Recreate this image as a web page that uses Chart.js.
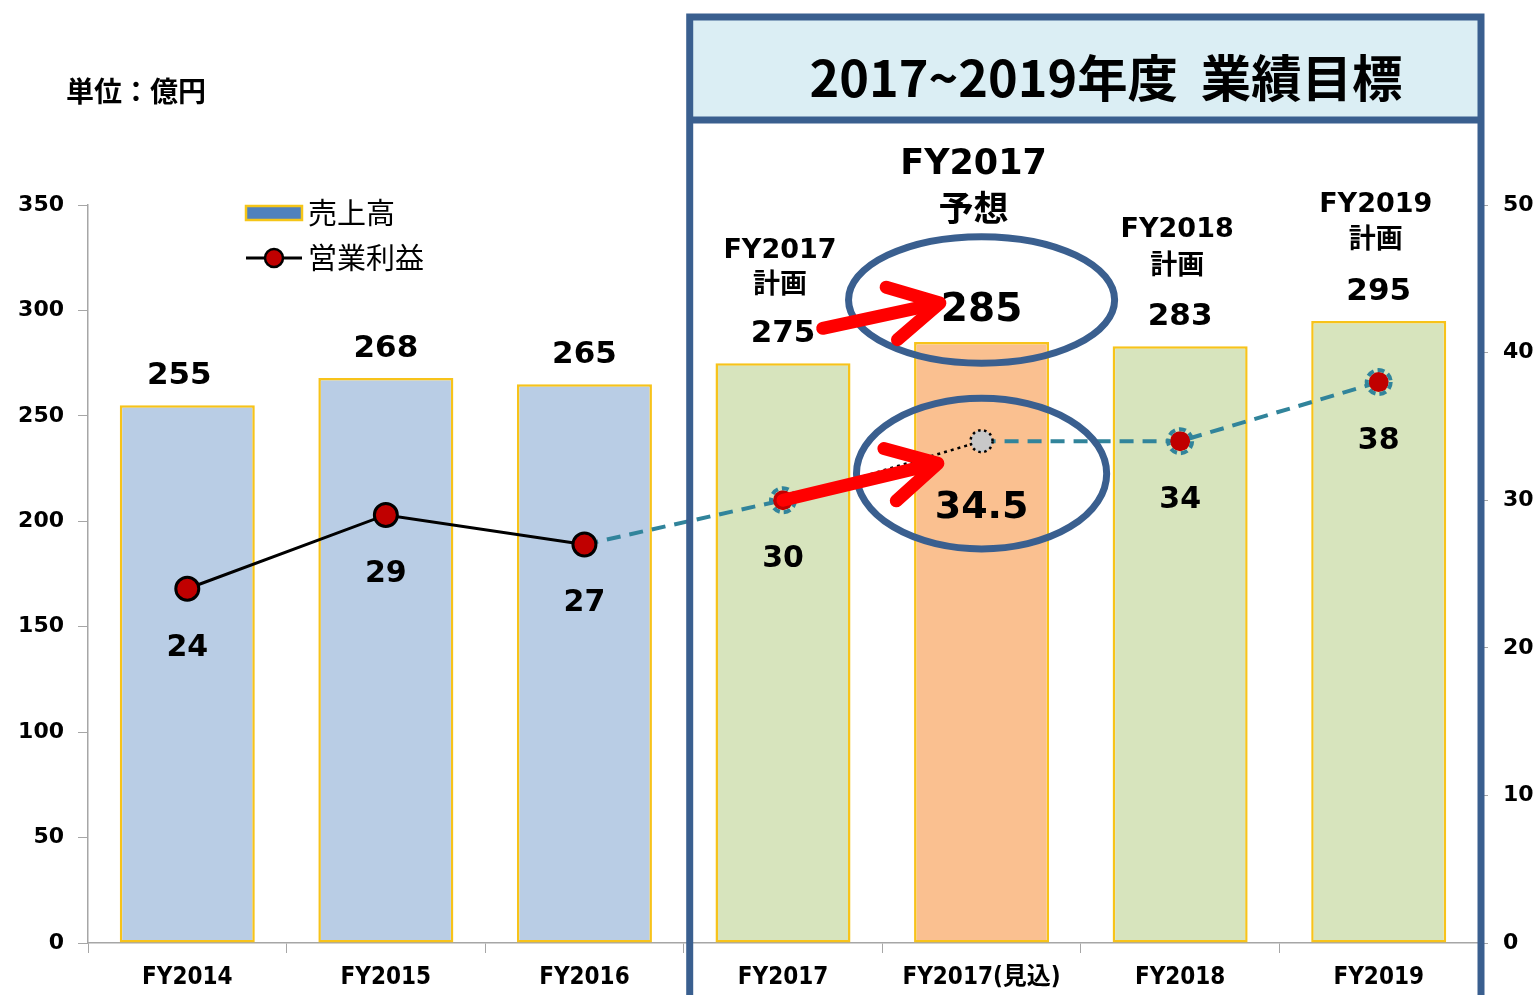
<!DOCTYPE html>
<html><head><meta charset="utf-8">
<script src="https://cdn.jsdelivr.net/npm/chart.js@4/dist/chart.umd.min.js"></script>
<style>html,body{margin:0;padding:0;background:#fff;overflow:hidden}#wrap{position:relative;width:1539px;height:995px}</style>
</head><body><div id="wrap"><canvas id="c" width="1539" height="995"></canvas></div>
<script>
// ---- data ----
const categories = ['FY2014','FY2015','FY2016','FY2017','FY2017(見込)','FY2018','FY2019'];
const sales = [255,268,265,275,285,283,295];
const salesLabels = ['255','268','265','275','285','283','295'];
const profitActual = [24,29,27,null,null,null,null];
const profitPlan = [null,null,27,30,34,34,38];
const profitLabels = ['24','29','27','30','34.5','34','38'];
const notes = [null,null,null,['FY2017','計画'],['FY2017','予想'],['FY2018','計画'],['FY2019','計画']];
const salesAxis = {min:0,max:350,step:50};
const profitAxis = {min:0,max:50,step:10};
const seriesNames = ['売上高','営業利益'];
const unitText = '単位：億円';
const titleText = '2017~2019年度  業績目標';
// annotations in data space [categoryIndex, value]
const arrowSales = {from:[3.2,291.5], to:[3.79,303.5]};
const arrowProfit = {from:[3,30], to:[3.78,32.5]};
const ellipseSales = {center:[4,305], rx:0.67, ry:30};
const ellipseProfit = {center:[4,31.8], rx:0.63, ry:5.1};

// ---- styles ----
const barColors = ['#b9cde5','#b9cde5','#b9cde5','#d7e4bd','#fac090','#d7e4bd','#d7e4bd'];
const NAVY = '#3a5f8f';
const TEAL = '#31849b';
const RED = '#c00000';
const LAT = '"DejaVu Sans", "Noto Sans CJK JP", sans-serif';
const CJK = '"Noto Sans CJK JP", "DejaVu Sans", sans-serif';

function drawArrow(ctx, x0, y0, x1, y1){
  const a = Math.atan2(y1-y0, x1-x0);
  ctx.save();
  ctx.strokeStyle = '#ff0000'; ctx.lineWidth = 13; ctx.lineCap='round'; ctx.lineJoin='round';
  ctx.beginPath(); ctx.moveTo(x0,y0); ctx.lineTo(x1-6*Math.cos(a), y1-6*Math.sin(a)); ctx.stroke();
  const L = 56, h = 0.5;
  ctx.beginPath();
  ctx.moveTo(x1 - L*Math.cos(a-h), y1 - L*Math.sin(a-h));
  ctx.lineTo(x1, y1);
  ctx.lineTo(x1 - L*Math.cos(a+h), y1 - L*Math.sin(a+h));
  ctx.stroke();
  ctx.restore();
}

const overlay = {
  id:'overlay',
  afterDatasetsDraw(chart){
    const {ctx, chartArea} = chart;
    const x = chart.scales.x, y = chart.scales.y, y1 = chart.scales.y1;
    ctx.save();
    // plan point rings
    const planMeta = chart.getDatasetMeta(2);
    planMeta.data.forEach((pt,i)=>{
      if (profitPlan[i]==null || i===2) return;
      ctx.beginPath(); ctx.arc(pt.x, pt.y, i===4?11:12, 0, 2*Math.PI);
      if (i===4){ ctx.setLineDash([2.5,3.5]); ctx.strokeStyle='#000'; ctx.lineWidth=2.5; }
      else { ctx.setLineDash([7,4]); ctx.strokeStyle=TEAL; ctx.lineWidth=4; }
      ctx.stroke();
    });
    ctx.setLineDash([]);
    ctx.fillStyle='#000'; ctx.textAlign='center'; ctx.textBaseline='middle';
    // sales labels
    const barMeta = chart.getDatasetMeta(0);
    barMeta.data.forEach((b,i)=>{
      const big = i===4;
      ctx.font = 'bold '+(big?39:31)+'px '+LAT;
      ctx.fillText(salesLabels[i], b.x - (i===0?8:0), b.y - (big?31:29));
      const n = notes[i];
      if (n){
        if (big){
          ctx.font = 'bold 35px '+LAT; ctx.fillText(n[0], b.x-8, b.y-177);
          ctx.font = 'bold 35px '+CJK; ctx.fillText(n[1], b.x-8, b.y-134);
        } else {
          ctx.font = 'bold 27px '+LAT; ctx.fillText(n[0], b.x-3, b.y-32-84 + (i===3?4:0));
          ctx.font = 'bold 27px '+CJK; ctx.fillText(n[1], b.x-3, b.y-32-51 + (i===3?3:0));
        }
      }
    });
    // profit labels
    categories.forEach((c,i)=>{
      const v = profitActual[i]!=null ? profitActual[i] : profitPlan[i];
      const px = x.getPixelForValue(i), py = y1.getPixelForValue(v);
      const big = i===4;
      ctx.font = 'bold '+(big?38:30)+'px '+LAT;
      ctx.fillText(profitLabels[i], px, py + (big?67:59));
    });
    // ellipses
    ctx.strokeStyle = NAVY; ctx.lineWidth = 7;
    const unit = x.getPixelForValue(1) - x.getPixelForValue(0);
    [[ellipseSales,y],[ellipseProfit,y1]].forEach(([e,sc])=>{
      const cx = x.getPixelForValue(e.center[0]), cy = sc.getPixelForValue(e.center[1]);
      const ry = Math.abs(sc.getPixelForValue(e.center[1]+e.ry) - cy);
      ctx.beginPath(); ctx.ellipse(cx, cy, e.rx*unit, ry, 0, 0, 2*Math.PI); ctx.stroke();
    });
    // arrows
    drawArrow(ctx, x.getPixelForValue(arrowSales.from[0]), y.getPixelForValue(arrowSales.from[1]),
                   x.getPixelForValue(arrowSales.to[0]), y.getPixelForValue(arrowSales.to[1]));
    drawArrow(ctx, x.getPixelForValue(arrowProfit.from[0]), y1.getPixelForValue(arrowProfit.from[1]),
                   x.getPixelForValue(arrowProfit.to[0]), y1.getPixelForValue(arrowProfit.to[1]));
    // legend
    const lx = 246;
    const ly1 = 213, ly2 = 258;
    ctx.fillStyle = '#4f81bd'; ctx.strokeStyle = '#f5c518'; ctx.lineWidth = 2.5;
    ctx.fillRect(lx, ly1-7, 56, 14); ctx.strokeRect(lx, ly1-7, 56, 14);
    ctx.strokeStyle='#000'; ctx.lineWidth=3;
    ctx.beginPath(); ctx.moveTo(lx, ly2); ctx.lineTo(lx+56, ly2); ctx.stroke();
    ctx.beginPath(); ctx.arc(lx+28, ly2, 9, 0, 2*Math.PI); ctx.fillStyle=RED; ctx.fill(); ctx.lineWidth=2.5; ctx.stroke();
    ctx.fillStyle='#000'; ctx.textAlign='left';
    ctx.font = '29px '+CJK;
    ctx.fillText(seriesNames[0], lx+62, ly1);
    ctx.fillText(seriesNames[1], lx+62, ly2);
    // unit
    ctx.font = 'bold 28px '+CJK;
    ctx.fillText(unitText, 66, 91);
    // frame
    const fl = (x.getPixelForValue(2)+x.getPixelForValue(3))/2 + 6;
    const fr = chartArea.right + 3;
    ctx.fillStyle = '#dbeef4';
    ctx.fillRect(fl, 17, fr-fl, 103);
    ctx.strokeStyle = NAVY; ctx.lineWidth = 7;
    ctx.beginPath();
    ctx.moveTo(fl, 1010); ctx.lineTo(fl, 17); ctx.lineTo(fr, 17); ctx.lineTo(fr, 1010);
    ctx.moveTo(fl, 120); ctx.lineTo(fr, 120);
    ctx.stroke();
    // title
    ctx.font = 'bold 50px '+CJK;
    ctx.textAlign='center';
    const w = ctx.measureText(titleText).width;
    const tw = 593;
    ctx.save();
    ctx.translate(1106, 78);
    ctx.scale(tw / w, 1);
    ctx.fillStyle='#000';
    ctx.fillText(titleText, 0, 0);
    ctx.restore();
    ctx.restore();
  }
};

const tickFont = {family: '"DejaVu Sans", sans-serif', size: 22, weight: 'bold'};
new Chart(document.getElementById('c'), {
  data: {
    labels: categories,
    datasets: [
      {type:'bar', label:seriesNames[0], data:sales, yAxisID:'y', order:3,
       backgroundColor:barColors, borderColor:'#f7c31a', borderWidth:2.5, borderSkipped:false,
       barPercentage:0.68, categoryPercentage:1},
      {type:'line', label:seriesNames[1], data:profitActual, yAxisID:'y1', order:1,
       borderColor:'#000', borderWidth:3, pointRadius:11.5, pointBackgroundColor:RED,
       pointBorderColor:'#000', pointBorderWidth:3, spanGaps:false},
      {type:'line', label:'plan', data:profitPlan, yAxisID:'y1', order:2,
       borderColor:TEAL, borderWidth:4, borderDash:[14,9],
       segment:{
         borderColor: c => c.p0DataIndex===3 ? '#000' : TEAL,
         borderDash: c => c.p0DataIndex===3 ? [3,4] : [14,9],
         borderWidth: c => c.p0DataIndex===3 ? 2.5 : 4
       },
       pointRadius: profitPlan.map((v,i)=> i===2 ? 0 : (i===4 ? 11 : 10)),
       pointBackgroundColor: profitPlan.map((v,i)=> i===4 ? '#c8c8c8' : RED),
       pointBorderWidth:0, spanGaps:false}
    ]
  },
  options: {
    responsive:false, animation:false, devicePixelRatio:1,
    layout:{padding:{top:205,left:0,right:0,bottom:0}},
    plugins:{legend:{display:false}, tooltip:{enabled:false}},
    scales:{
      x:{grid:{offset:true, drawOnChartArea:false, drawTicks:true, tickLength:10, color:'#a6a6a6'},
         border:{color:'#a6a6a6', width:1.5},
         ticks:{color:'#000', padding:10, maxRotation:0, font:{family:'"DejaVu Sans Condensed", "DejaVu Sans", "Noto Sans CJK JP", sans-serif', size:24, weight:'bold'}},
         afterFit: s => { s.height = 52; }},
      y:{position:'left', min:salesAxis.min, max:salesAxis.max,
         ticks:{stepSize:salesAxis.step, color:'#000', padding:14, font:tickFont},
         grid:{drawOnChartArea:false, tickLength:10, color:'#a6a6a6'},
         border:{color:'#a6a6a6', width:1.5},
         afterFit: s => { s.width = 88; }},
      y1:{position:'right', min:profitAxis.min, max:profitAxis.max,
         ticks:{stepSize:profitAxis.step, color:'#000', padding:15, font:tickFont},
         grid:{drawOnChartArea:false, tickLength:10, color:'#a6a6a6'},
         border:{display:false},
         afterFit: s => { s.width = 61; }}
    }
  },
  plugins:[overlay]
});
</script></body></html>
